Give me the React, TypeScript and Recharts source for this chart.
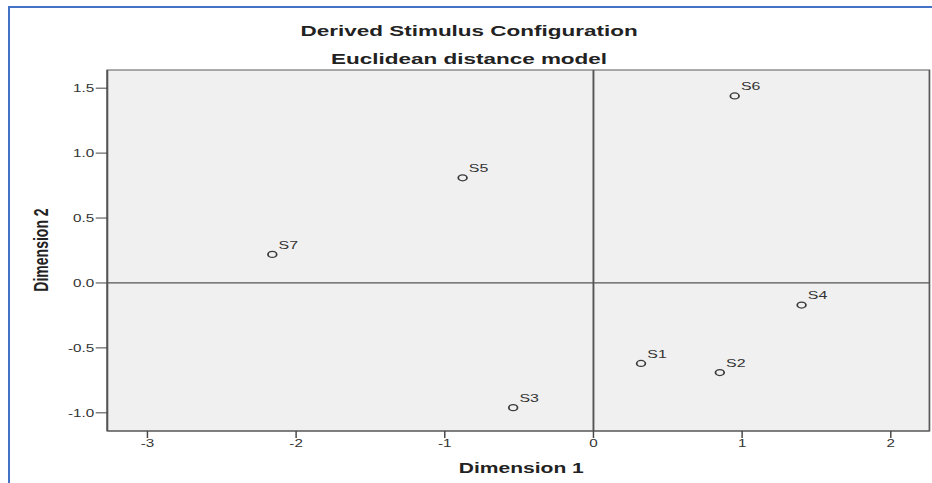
import {
  CartesianGrid,
  ReferenceArea,
  ReferenceLine,
  Scatter,
  ScatterChart,
  XAxis,
  YAxis,
} from "recharts";

// stimulus coordinates
const stimulusNames = ["S1", "S2", "S3", "S4", "S5", "S6", "S7"];
const dimension1 = [0.32, 0.85, -0.54, 1.4, -0.88, 0.95, -2.16];
const dimension2 = [-0.62, -0.69, -0.96, -0.17, 0.81, 1.44, 0.22];

const xTicks = [-3, -2, -1, 0, 1, 2];
const yTicks = [-1, -0.5, 0, 0.5, 1, 1.5];
const xDomain: [number, number] = [-3.27, 2.26];
const yDomain: [number, number] = [-1.14, 1.64];

// the source picture is stretched sideways, so the chart is drawn narrow and scaled
const STRETCH = 1.45;
const CHART_W = 643;
const CHART_H = 483;

const FONT = "'Liberation Sans', Arial, sans-serif";

const points = stimulusNames.map((name, i) => ({
  name,
  x: dimension1[i],
  y: dimension2[i],
}));

function StimulusPoint(props: any) {
  const { cx, cy, payload } = props;
  return (
    <g>
      <circle cx={cx} cy={cy} r={3} fill="none" stroke="#3a3a3a" strokeWidth={1.2} />
      <text x={cx + 4.3} y={cy - 5.8} fontSize={11} fontFamily={FONT} fill="#333">
        {payload.name}
      </text>
    </g>
  );
}

const tickStyle = { fontSize: 10.5, fontFamily: FONT, fill: "#333" };

export default function App() {
  return (
    <div
      style={{
        position: "absolute",
        left: 0,
        top: 0,
        width: 932,
        height: 483,
        background: "#fff",
        overflow: "hidden",
      }}
    >
      <div
        style={{
          position: "absolute",
          left: 8,
          top: 6,
          right: 0,
          bottom: 0,
          borderLeft: "2px solid #4472c4",
          borderTop: "2px solid #4472c4",
        }}
      />
      <div
        style={{
          position: "absolute",
          left: 0,
          top: 0,
          width: CHART_W,
          height: CHART_H,
          transform: `scaleX(${STRETCH})`,
          transformOrigin: "0 0",
          fontFamily: FONT,
          color: "#222",
        }}
      >
        <div
          style={{
            position: "absolute",
            left: 2,
            top: 23,
            width: CHART_W,
            textAlign: "center",
            fontSize: 15.5,
            fontWeight: "bold",
            lineHeight: "15.5px",
            whiteSpace: "nowrap",
          }}
        >
          Derived Stimulus Configuration
        </div>
        <div
          style={{
            position: "absolute",
            left: 2,
            top: 51,
            width: CHART_W,
            textAlign: "center",
            fontSize: 15.5,
            fontWeight: "bold",
            lineHeight: "15.5px",
            whiteSpace: "nowrap",
          }}
        >
          Euclidean distance model
        </div>

        <ScatterChart
          width={CHART_W}
          height={CHART_H}
          margin={{ top: 70, right: 2, bottom: 0, left: 0 }}
        >
          <CartesianGrid horizontal={false} vertical={false} fill="#f0f0f0" />
          <XAxis
            type="number"
            dataKey="x"
            domain={xDomain}
            ticks={xTicks}
            allowDataOverflow
            height={52}
            tickSize={7}
            tick={tickStyle}
            tickLine={{ stroke: "#444" }}
            axisLine={{ stroke: "#555", strokeWidth: 1.2 }}
          />
          <YAxis
            type="number"
            dataKey="y"
            domain={yDomain}
            ticks={yTicks}
            allowDataOverflow
            width={74}
            tickSize={8}
            tickMargin={1}
            tick={tickStyle}
            tickFormatter={(v: number) => v.toFixed(1)}
            tickLine={{ stroke: "#444" }}
            axisLine={{ stroke: "#555", strokeWidth: 1.2 }}
          />
          <ReferenceArea
            x1={xDomain[0]}
            x2={xDomain[1]}
            y1={yDomain[0]}
            y2={yDomain[1]}
            fill="none"
            stroke="#5a5a5a"
            strokeWidth={1.2}
          />
          <ReferenceLine x={0} stroke="#555" strokeWidth={1.3} />
          <ReferenceLine y={0} stroke="#555" strokeWidth={1.3} />
          <Scatter
            data={points}
            shape={StimulusPoint}
            isAnimationActive={false}
          />
        </ScatterChart>

        <div
          style={{
            position: "absolute",
            left: 76,
            top: 461,
            width: 567,
            textAlign: "center",
            fontSize: 14.5,
            fontWeight: "bold",
            lineHeight: "14.5px",
            whiteSpace: "nowrap",
          }}
        >
          Dimension 1
        </div>
        <div
          style={{
            position: "absolute",
            left: 28.3 - 100,
            top: 250 - 7,
            width: 200,
            textAlign: "center",
            fontSize: 14,
            fontWeight: "bold",
            lineHeight: "14px",
            whiteSpace: "nowrap",
            transform: "rotate(-90deg)",
            transformOrigin: "50% 50%",
          }}
        >
          Dimension 2
        </div>
      </div>
    </div>
  );
}
